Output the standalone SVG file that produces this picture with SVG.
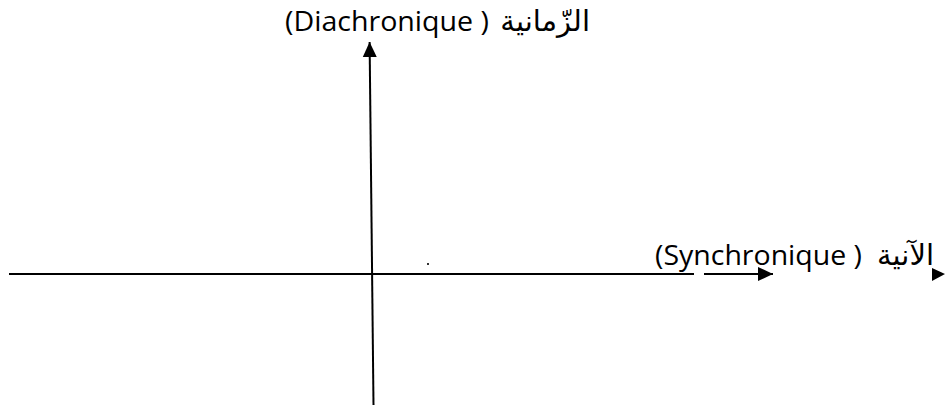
<svg xmlns="http://www.w3.org/2000/svg" width="945" height="407" viewBox="0 0 945 407">
<style>
.ax{stroke:#000;stroke-width:2;fill:none}
.t{font-family:"Open Sans","DejaVu Sans",sans-serif;font-size:27px;fill:#000}
.ar{font-family:"DejaVu Sans","Noto Sans",sans-serif;font-size:29px;fill:#000}
</style>
<defs>
<marker id="ah" markerUnits="userSpaceOnUse" markerWidth="16" markerHeight="16" refX="15" refY="7" orient="auto" viewBox="0 0 16 14">
<polygon points="0,0 15,7 0,14" fill="#000"/>
</marker>
</defs>
<rect width="945" height="407" fill="#fff"/>
<g id="connectors">
<line class="ax" x1="9" y1="274" x2="694" y2="274"/>
<line class="ax" x1="373.5" y1="405" x2="369.6" y2="42" marker-end="url(#ah)"/>
<line class="ax" x1="704" y1="274" x2="773" y2="274" marker-end="url(#ah)"/>
<polygon points="932,268 945,274 932,281" fill="#000"/>
<rect x="427" y="263" width="2" height="2" fill="#333"/>
</g>
<g id="label-diachronique">
<text class="t" x="285" y="31" textLength="204" lengthAdjust="spacingAndGlyphs">(Diachronique )</text>
<text class="ar" x="590" y="31" text-anchor="end">الزّمانية</text>
</g>
<g id="label-synchronique">
<text class="t" x="655" y="265" textLength="207" lengthAdjust="spacingAndGlyphs">(Synchronique )</text>
<text class="ar" x="934" y="265" text-anchor="end">الآنية</text>
</g>
</svg>
